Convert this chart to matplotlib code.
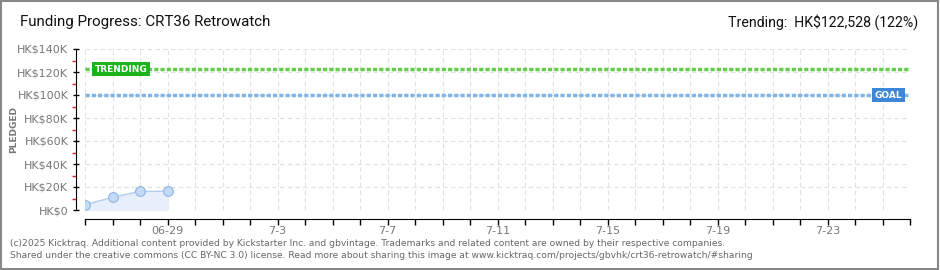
import numpy as np
import matplotlib.pyplot as plt
from matplotlib.patches import Rectangle

# data (HK$)
days = ['06-26', '06-27', '06-28', '06-29']
pledged = [4600, 11000, 16200, 16300]
goal = 100000
trending = 122528
day_labels = ['06-29', '7-3', '7-7', '7-11', '7-15', '7-19', '7-23']
label_idx = [3, 7, 11, 15, 19, 23, 27]
n_days = 30

fig = plt.figure(figsize=(9.4, 2.7), dpi=100)
fig.patches.append(Rectangle((0.001, 0.002), 0.997, 0.995, transform=fig.transFigure,
                             fill=False, edgecolor='#888888', linewidth=1.5))
ax = fig.add_axes([85/940, 60/270, 825/940, 161/270])

x = np.arange(len(pledged))
ax.fill_between(x, pledged, color='#e6effb', zorder=2)
ax.plot(x, pledged, color='#b3cdee', lw=1, zorder=3)
ax.plot(x, pledged, 'o', ms=7, mfc='#c4dbf7', mec='#8fb3e0', mew=0.8, zorder=4)

ax.axhline(trending, color='#66cc4d', lw=2.5, ls=(0, (1.2, 0.6)), zorder=3)
ax.axhline(goal, color='#80b3e8', lw=2.5, ls=(0, (1.2, 0.6)), zorder=3)

ax.text(0.35, trending, 'TRENDING', color='white', fontsize=6.5, fontweight='bold',
        va='center', ha='left', zorder=5,
        bbox=dict(boxstyle='square,pad=0.3', fc='#1db31d', ec='none'))
ax.text(28.7, goal, 'GOAL', color='white', fontsize=6.5, fontweight='bold',
        va='center', ha='left', zorder=5,
        bbox=dict(boxstyle='square,pad=0.3', fc='#3d87d6', ec='none'))

ax.set_xlim(0, n_days)
ax.set_ylim(0, 140000)
ax.set_xticks(np.arange(0, n_days + 1))
ax.set_xticklabels(['' if i not in label_idx else day_labels[label_idx.index(i)]
                    for i in range(n_days + 1)])
yt = np.arange(0, 140001, 20000)
ax.set_yticks(yt)
ax.set_yticklabels(['HK$0' if v == 0 else 'HK$%dK' % (v // 1000) for v in yt])
ax.set_yticks(np.arange(10000, 140000, 20000), minor=True)

ax.grid(True, color='#e0e0e0', ls=(0, (4, 3)), lw=0.8)
for s in ['top', 'right']:
    ax.spines[s].set_visible(False)
ax.spines['left'].set_position(('outward', 6.5))
ax.spines['bottom'].set_position(('outward', 6.5))
ax.tick_params(axis='y', colors='black', labelcolor='#777777', labelsize=8,
               direction='inout', length=5, width=1, pad=3)
ax.tick_params(axis='x', colors='black', labelcolor='#777777', labelsize=8,
               direction='out', length=4, width=1, pad=1)
ax.tick_params(axis='y', which='minor', colors='#dd2222', direction='out', length=3, width=1)

ax.set_ylabel('PLEDGED', color='#777777', fontsize=6.5, fontweight='bold')
ax.yaxis.set_label_coords(-0.081, 0.5)

fig.text(20/940, 1 - 22/270, 'Funding Progress: CRT36 Retrowatch', fontsize=10.9,
         va='center', ha='left', color='#111111', family='Roboto')
fig.text(918/940, 1 - 22/270, 'Trending:  HK$122,528 (122%)', fontsize=10.2,
         va='center', ha='right', color='#111111', family='Roboto')
fig.text(10/940, 1 - 243/270,
         '(c)2025 Kicktraq. Additional content provided by Kickstarter Inc. and gbvintage. '
         'Trademarks and related content are owned by their respective companies.',
         fontsize=6.6, color='#666666', va='center')
fig.text(10/940, 1 - 255/270,
         'Shared under the creative commons (CC BY-NC 3.0) license. Read more about sharing '
         'this image at www.kicktraq.com/projects/gbvhk/crt36-retrowatch/#sharing',
         fontsize=6.6, color='#666666', va='center')

fig.savefig('out.png', dpi=100, facecolor='white')
